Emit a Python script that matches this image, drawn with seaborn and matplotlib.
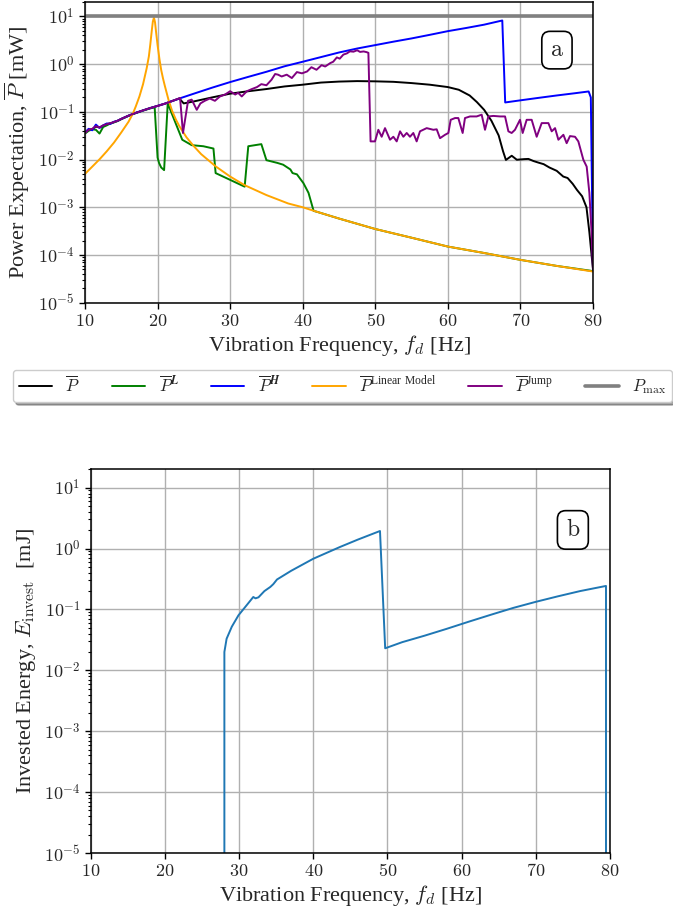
import numpy as np
import matplotlib
matplotlib.use("Agg")
import matplotlib.pyplot as plt
import seaborn as sns
from matplotlib.ticker import FuncFormatter, LogLocator, FixedLocator, NullFormatter

# ---------------- data: power expectation (panel a) ----------------
freq_mean = [10, 10.5, 11, 11.5, 12, 12.5, 13, 13.5, 14, 14.5,
             15, 16, 17, 18, 19, 20, 21, 22, 23, 23.6,
             25, 27.5, 30, 32.5, 35, 37.5, 40, 42.5, 45, 47.5,
             50, 52.5, 55, 57.5, 60, 61.5, 63, 64, 65, 66,
             67, 67.6, 68, 68.8, 69.5, 70.5, 71.1, 71.8, 72.5, 73.2,
             74, 75, 75.9, 76.5, 77.2, 77.8, 78.5, 79.1, 79.5, 79.8,
             80]
p_mean = [0.036, 0.042, 0.043, 0.049, 0.047, 0.051, 0.055, 0.057, 0.061, 0.065,
          0.071, 0.083, 0.095, 0.107, 0.12, 0.133, 0.148, 0.168, 0.19, 0.15,
          0.165, 0.2, 0.24, 0.27, 0.3, 0.34, 0.37, 0.41, 0.43, 0.44,
          0.435, 0.425, 0.40, 0.37, 0.33, 0.29, 0.22, 0.16, 0.11, 0.065,
          0.032, 0.015, 0.0098, 0.012, 0.0099, 0.0102, 0.0103, 0.0093, 0.0086, 0.0080,
          0.0068, 0.0058, 0.0044, 0.0041, 0.0031, 0.0023, 0.0017, 0.001, 3e-4, 1e-4,
          5e-5]

freq_low_branch = [10, 10.5, 11, 11.5, 12, 12.5, 13, 13.5, 14, 14.5,
                   15, 16, 17, 18, 19, 19.6, 20.0, 20.2, 20.5, 20.9,
                   21.4, 23.4, 24.7, 26.3, 27.7, 28.0, 32.0, 32.5, 34.3, 35.0,
                   36.5, 37.3, 38.3, 38.6, 39.2, 40.1, 40.8, 41.5, 42, 45,
                   50, 55, 60, 65, 70, 75, 80]
p_low_branch = [0.035, 0.04, 0.043, 0.042, 0.035, 0.048, 0.052, 0.057, 0.06, 0.064,
                0.07, 0.082, 0.094, 0.106, 0.118, 0.124, 0.011, 0.0085, 0.0068, 0.006,
                0.15, 0.026, 0.02, 0.019, 0.017, 0.0052, 0.0027, 0.019, 0.021, 0.0097,
                0.0085, 0.0078, 0.0062, 0.0052, 0.0049, 0.0032, 0.002, 8.4e-4, 8.0e-4, 5.8e-4,
                3.5e-4, 2.3e-4, 1.5e-4, 1.1e-4, 7.9e-5, 5.9e-5, 4.6e-5]

freq_high_branch = [10, 10.5, 11, 11.5, 12, 12.5, 13, 13.5, 14, 14.5,
                    15, 16, 17, 18, 19, 20, 21, 22, 23,
                    25, 27.5, 30, 32.5, 35, 37.5, 40, 42.5, 45, 47.5,
                    50, 52.5, 55, 57.5, 60, 62.5, 65, 67.5, 67.9, 70,
                    72.5, 75, 77.5, 79.4, 79.7, 80]
p_high_branch = [0.037, 0.044, 0.041, 0.054, 0.046, 0.052, 0.057, 0.056, 0.062, 0.065,
                 0.071, 0.083, 0.095, 0.107, 0.12, 0.133, 0.148, 0.168, 0.19,
                 0.24, 0.32, 0.42, 0.54, 0.69, 0.9, 1.12, 1.4, 1.75, 2.12,
                 2.5, 2.95, 3.45, 4.1, 4.9, 5.7, 6.7, 8.2, 0.157, 0.174,
                 0.196, 0.22, 0.245, 0.267, 0.2, 4.8e-5]

freq_linear = [10, 11, 12, 13, 14, 15, 16, 16.6,
               17, 17.5, 18, 18.5, 18.8, 19, 19.2, 19.35,
               19.5, 19.65, 19.8, 20, 20.25, 20.5, 20.75, 21,
               21.5, 22, 22.5, 23, 24, 25, 26, 28,
               30, 32, 35, 38, 40, 42, 45, 50,
               55, 60, 65, 70, 75, 80]
p_linear = [0.005, 0.0071, 0.0101, 0.0149, 0.0227, 0.037, 0.062, 0.092,
            0.13, 0.21, 0.38, 0.82, 1.45, 2.6, 5.0, 7.8,
            9.4, 7.5, 4.6, 2.5, 1.3, 0.75, 0.5, 0.35,
            0.18, 0.105, 0.07, 0.05, 0.029, 0.019, 0.013, 0.0072,
            0.0044, 0.0029, 0.0018, 0.0012, 0.001, 8.0e-4, 5.8e-4, 3.5e-4,
            2.3e-4, 1.5e-4, 1.1e-4, 7.9e-5, 5.9e-5, 4.5e-5]

freq_jump = [10, 10.5, 11, 11.5, 12, 12.5, 13, 13.5, 14, 14.5,
             15, 16, 17, 18, 19, 20, 21, 22, 23.1, 23.5,
             24.2, 24.7, 25.4, 25.9, 26.5, 27.2, 27.9, 28.6, 29.3, 30.0,
             30.7, 31.1, 31.6, 32.3, 33.0, 33.7, 34.3, 35.0, 35.7, 36.2,
             36.6, 37.1, 37.8, 38.5, 39.2, 39.9, 40.6, 41.2, 41.9, 42.6,
             43.1, 43.8, 44.2, 44.7, 45.1, 45.6, 46.1, 46.5, 47.0, 47.5,
             47.9, 48.4, 48.8, 49.05, 49.35, 49.96, 50.42, 50.88, 51.34, 52.03,
             52.49, 52.95, 53.41, 53.87, 54.33, 54.78, 55.24, 55.7, 56.16, 57.08,
             58.0, 58.46, 58.92, 59.61, 60.07, 60.39, 60.99, 61.44, 62.04, 62.36,
             63.05, 63.97, 64.66, 65.12, 65.58, 66.27, 67.19, 67.88, 68.34, 68.79,
             69.25, 69.94, 70.31, 70.86, 71.55, 72.24, 72.93, 73.85, 74.31, 74.77,
             75.23, 75.92, 76.37, 76.83, 77.52, 77.98, 78.67, 79.13, 79.5, 79.8,
             80]
p_jump = [0.036, 0.042, 0.044, 0.05, 0.047, 0.052, 0.055, 0.058, 0.061, 0.065,
          0.071, 0.083, 0.095, 0.107, 0.12, 0.133, 0.148, 0.168, 0.195, 0.036,
          0.17, 0.18, 0.11, 0.15, 0.17, 0.19, 0.17, 0.21, 0.23, 0.27,
          0.23, 0.25, 0.21, 0.27, 0.3, 0.33, 0.38, 0.36, 0.47, 0.62,
          0.6, 0.55, 0.6, 0.51, 0.68, 0.64, 0.7, 0.86, 0.76, 0.95,
          0.89, 1.05, 1.12, 1.38, 1.3, 1.58, 1.68, 1.85, 1.82, 1.95,
          1.8, 1.84, 1.78, 1.72, 0.024, 0.024, 0.042, 0.030, 0.0455, 0.026,
          0.030, 0.024, 0.039, 0.030, 0.036, 0.030, 0.036, 0.024, 0.039, 0.0455,
          0.042, 0.043, 0.028, 0.033, 0.036, 0.068, 0.074, 0.074, 0.036, 0.074,
          0.080, 0.080, 0.087, 0.042, 0.080, 0.082, 0.080, 0.080, 0.039, 0.036,
          0.042, 0.068, 0.036, 0.068, 0.068, 0.030, 0.058, 0.058, 0.039, 0.0455,
          0.026, 0.033, 0.022, 0.031, 0.030, 0.024, 0.0099, 0.0071, 0.002, 3e-4,
          5e-5]

freq_range = [10, 80]
p_max = 10.0

# ---------------- data: invested energy (panel b) ----------------
freq_invest = [28.0, 28.0, 28.3, 29.0, 29.9, 31.0, 31.9, 32.2, 32.6, 33.4,
               34.2, 34.6, 35.1, 37.0, 40.0, 43.6, 46.0, 49.0, 49.7, 52,
               55, 58, 61, 64, 67, 70, 73, 76, 79.5, 79.5]
e_invest = [1e-8, 0.02, 0.033, 0.052, 0.08, 0.117, 0.16, 0.152, 0.158, 0.2,
            0.234, 0.26, 0.31, 0.43, 0.68, 1.06, 1.4, 1.94, 0.023, 0.029,
            0.037, 0.048, 0.063, 0.082, 0.106, 0.133, 0.164, 0.2, 0.243, 1e-8]

x_ticks = [10, 20, 30, 40, 50, 60, 70, 80]

# ---------------- style ----------------
sns.set_style("ticks")
plt.rcParams["font.family"] = ["Liberation Serif", "DejaVu Serif"]
plt.rcParams["mathtext.fontset"] = "cm"
plt.rcParams["axes.linewidth"] = 1.1
plt.rcParams["axes.edgecolor"] = "black"

fig = plt.figure(figsize=(6.73, 9.13), dpi=100)
ax_a = fig.add_axes([85 / 673, 1 - 302.7 / 913, 508 / 673, 300.7 / 913])
ax_b = fig.add_axes([91 / 673, 1 - 853 / 913, 518.7 / 673, 383.7 / 913])


def style_axis(ax, ylabel):
    ax.set_yscale("log")
    ax.set_xlim(10, 80)
    ax.set_ylim(1e-5, 20)
    ax.xaxis.set_major_locator(FixedLocator(x_ticks))
    ax.xaxis.set_major_formatter(FuncFormatter(lambda v, p: rf"${int(v)}$"))
    ax.yaxis.set_major_locator(FixedLocator([1e-5, 1e-4, 1e-3, 1e-2, 1e-1, 1, 10]))
    ax.yaxis.set_major_formatter(
        FuncFormatter(lambda v, p: rf"$10^{{{int(round(np.log10(v)))}}}$"))
    ax.yaxis.set_minor_locator(LogLocator(base=10, subs=np.arange(2, 10), numticks=20))
    ax.yaxis.set_minor_formatter(NullFormatter())
    ax.tick_params(axis="both", which="major", labelsize=13, length=4, width=1, color="black")
    ax.tick_params(axis="y", which="minor", length=2.2, width=0.8, color="black")
    ax.grid(True, which="major", color="#b0b0b0", linewidth=1.0)
    ax.set_axisbelow(True)
    for s in ax.spines.values():
        s.set_visible(True)
        s.set_color("black")
    ax.set_xlabel(r"Vibration Frequency, $f_d$ [Hz]", fontsize=16, labelpad=2)
    ax.set_ylabel(ylabel, fontsize=16, labelpad=4)


style_axis(ax_a, r"Power Expectation, $\overline{P}$ [mW]")
style_axis(ax_b, r"Invested Energy, $E_{\mathrm{invest}}$  [mJ]")

lw = 1.4
series = [
    (freq_mean, p_mean, "black", lw, r"$\overline{P}$"),
    (freq_low_branch, p_low_branch, "green", lw, r"$\overline{P}^{\mathbfit{L}}$"),
    (freq_high_branch, p_high_branch, "blue", lw, r"$\overline{P}^{\mathbfit{H}}$"),
    (freq_linear, p_linear, "orange", lw, r"$\overline{P}^{\mathdefault{Linear\ Model}}$"),
    (freq_jump, p_jump, "purple", lw, r"$\overline{P}^{\mathdefault{Jump}}$"),
    (freq_range, [p_max, p_max], "grey", 2.6, r"$P_{\max}$"),
]
handles = []
for fx, py, col, w, lab in series:
    sns.lineplot(x=fx, y=py, ax=ax_a, color=col, linewidth=w, estimator=None,
                 sort=False, legend=False)
    handles.append(matplotlib.lines.Line2D([], [], color=col, linewidth=w, label=lab))

sns.lineplot(x=freq_invest, y=e_invest, ax=ax_b, color="#1f77b4", linewidth=1.4,
             estimator=None, sort=False, legend=False)

box = dict(boxstyle="round,pad=0.35,rounding_size=0.35", facecolor="white",
           edgecolor="black", linewidth=1.2)
ax_a.text(0.929, 0.84, r"$\mathrm{a}$", transform=ax_a.transAxes, fontsize=17,
          ha="center", va="center", bbox=box)
ax_b.text(0.929, 0.842, r"$\mathrm{b}$", transform=ax_b.transAxes, fontsize=17,
          ha="center", va="center", bbox=box)

fig.legend(handles=handles, loc="center", ncol=6, mode="expand",
           bbox_to_anchor=(13 / 673, 1 - 400 / 913, 659 / 673, 28 / 913),
           borderaxespad=0.0,
           fontsize=12, frameon=True, shadow=True, fancybox=True, framealpha=1,
           edgecolor="0.8", handlelength=2.0, handletextpad=0.8, borderpad=0.35,
           columnspacing=1.0)

fig.savefig("out.png", dpi=100)
